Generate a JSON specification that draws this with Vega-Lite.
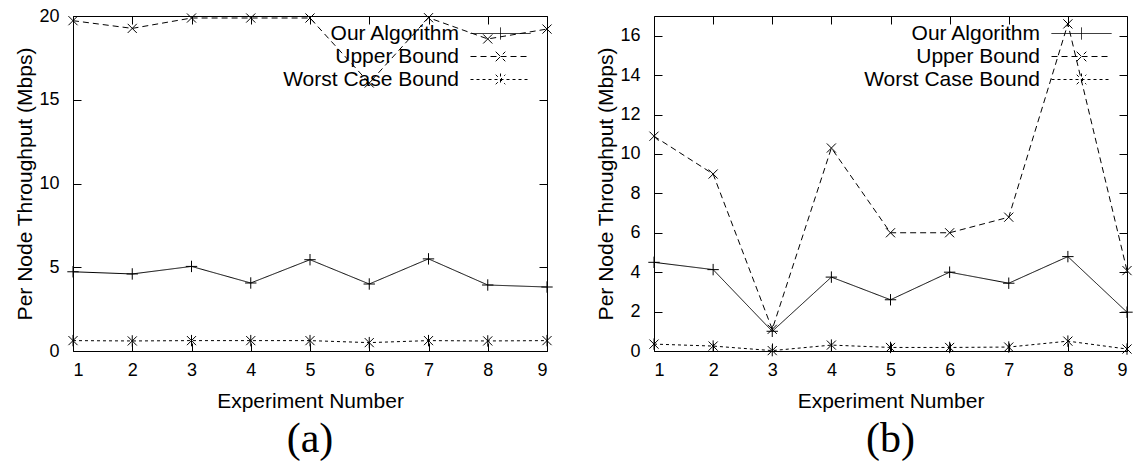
{
  "$schema": "https://vega.github.io/schema/vega-lite/v6.json",
  "background": "white",
  "padding": {"left": 14, "top": 6, "right": 3, "bottom": 0},
  "config": {
    "view": {"stroke": "black", "strokeWidth": 1},
    "font": "Liberation Sans",
    "axis": {
      "grid": false, "domain": false, "ticks": true, "tickSize": -8, "tickColor": "black", "tickWidth": 1,
      "labelFont": "Liberation Sans", "labelFontSize": 18, "labelColor": "black",
      "titleFont": "Liberation Sans", "titleFontSize": 21, "titleFontWeight": "normal", "titleColor": "black"
    },
    "axisX": {"labelPadding": 18},
    "axisY": {"labelPadding": 22},
    "legend": {
      "orient": "none", "legendX": 417, "legendY": 7, "title": null, "padding": 0,
      "symbolSize": 144, "symbolStrokeWidth": 1, "symbolStrokeColor": "black", "symbolFillColor": "transparent",
      "labelAlign": "right", "labelOffset": -52, "labelFont": "Liberation Sans", "labelFontSize": 21, "labelColor": "black", "labelLimit": 400,
      "rowPadding": 1
    },
    "title": {"font": "Liberation Serif", "fontSize": 42, "fontWeight": "normal", "color": "black"}
  },
  "datasets": {
    "a": [
      {"exp": 1, "series": "Our Algorithm", "value": 4.73},
      {"exp": 2, "series": "Our Algorithm", "value": 4.6},
      {"exp": 3, "series": "Our Algorithm", "value": 5.05},
      {"exp": 4, "series": "Our Algorithm", "value": 4.06},
      {"exp": 5, "series": "Our Algorithm", "value": 5.45},
      {"exp": 6, "series": "Our Algorithm", "value": 4.0},
      {"exp": 7, "series": "Our Algorithm", "value": 5.5},
      {"exp": 8, "series": "Our Algorithm", "value": 3.94},
      {"exp": 9, "series": "Our Algorithm", "value": 3.82},
      {"exp": 1, "series": "Upper Bound", "value": 19.72},
      {"exp": 2, "series": "Upper Bound", "value": 19.26},
      {"exp": 3, "series": "Upper Bound", "value": 19.88},
      {"exp": 4, "series": "Upper Bound", "value": 19.88},
      {"exp": 5, "series": "Upper Bound", "value": 19.88},
      {"exp": 6, "series": "Upper Bound", "value": 16.0},
      {"exp": 7, "series": "Upper Bound", "value": 19.9},
      {"exp": 8, "series": "Upper Bound", "value": 18.63},
      {"exp": 9, "series": "Upper Bound", "value": 19.22},
      {"exp": 1, "series": "Worst Case Bound", "value": 0.62},
      {"exp": 2, "series": "Worst Case Bound", "value": 0.6},
      {"exp": 3, "series": "Worst Case Bound", "value": 0.62},
      {"exp": 4, "series": "Worst Case Bound", "value": 0.62},
      {"exp": 5, "series": "Worst Case Bound", "value": 0.62},
      {"exp": 6, "series": "Worst Case Bound", "value": 0.5},
      {"exp": 7, "series": "Worst Case Bound", "value": 0.62},
      {"exp": 8, "series": "Worst Case Bound", "value": 0.6},
      {"exp": 9, "series": "Worst Case Bound", "value": 0.62}
    ],
    "b": [
      {"exp": 1, "series": "Our Algorithm", "value": 4.5},
      {"exp": 2, "series": "Our Algorithm", "value": 4.13},
      {"exp": 3, "series": "Our Algorithm", "value": 1.0},
      {"exp": 4, "series": "Our Algorithm", "value": 3.75},
      {"exp": 5, "series": "Our Algorithm", "value": 2.6},
      {"exp": 6, "series": "Our Algorithm", "value": 4.0},
      {"exp": 7, "series": "Our Algorithm", "value": 3.44},
      {"exp": 8, "series": "Our Algorithm", "value": 4.79},
      {"exp": 9, "series": "Our Algorithm", "value": 1.97},
      {"exp": 1, "series": "Upper Bound", "value": 10.9},
      {"exp": 2, "series": "Upper Bound", "value": 8.98},
      {"exp": 3, "series": "Upper Bound", "value": 1.1},
      {"exp": 4, "series": "Upper Bound", "value": 10.3},
      {"exp": 5, "series": "Upper Bound", "value": 6.0},
      {"exp": 6, "series": "Upper Bound", "value": 6.0},
      {"exp": 7, "series": "Upper Bound", "value": 6.79},
      {"exp": 8, "series": "Upper Bound", "value": 16.6},
      {"exp": 9, "series": "Upper Bound", "value": 4.08},
      {"exp": 1, "series": "Worst Case Bound", "value": 0.35},
      {"exp": 2, "series": "Worst Case Bound", "value": 0.25},
      {"exp": 3, "series": "Worst Case Bound", "value": 0.02},
      {"exp": 4, "series": "Worst Case Bound", "value": 0.3},
      {"exp": 5, "series": "Worst Case Bound", "value": 0.18},
      {"exp": 6, "series": "Worst Case Bound", "value": 0.18},
      {"exp": 7, "series": "Worst Case Bound", "value": 0.2},
      {"exp": 8, "series": "Worst Case Bound", "value": 0.5},
      {"exp": 9, "series": "Worst Case Bound", "value": 0.1}
    ]
  },
  "spacing": 39,
  "resolve": {
    "scale": {"x": "independent", "y": "independent", "strokeDash": "independent"},
    "legend": {"strokeDash": "independent"}
  },
  "hconcat": [
    {
      "width": 474, "height": 335,
      "title": {"text": "(a)", "orient": "bottom", "offset": 8},
      "data": {"name": "a"},
      "layer": [
        {
          "mark": {"type": "line", "strokeWidth": 1, "color": "black"},
          "encoding": {
            "x": {"field": "exp", "type": "quantitative", "scale": {"domain": [1, 9], "nice": false},
                  "axis": {"orient": "bottom", "values": [1,2,3,4,5,6,7,8,9], "title": "Experiment Number", "titlePadding": 11}},
            "y": {"field": "value", "type": "quantitative", "scale": {"domain": [0, 20], "nice": false},
                  "axis": {"orient": "left", "values": [0,5,10,15,20], "title": "Per Node Throughput (Mbps)", "titlePadding": 3}},
            "strokeDash": {"field": "series", "type": "nominal",
              "scale": {"domain": ["Our Algorithm", "Upper Bound", "Worst Case Bound"], "range": [[1, 0], [6, 4], [3, 3]]},
              "legend": {
                "encode": {"symbols": {"update": {"shape": {"signal": "datum.value === 'Our Algorithm' ? 'M-5,0H5M0,-1V1' : datum.value === 'Upper Bound' ? 'M-5,0H5M-0.8,-0.8L0.8,0.8M-0.8,0.8L0.8,-0.8' : 'M-5,0H5M-0.8,-0.8L0.8,0.8M-0.8,0.8L0.8,-0.8M0,-1V1'"}}}}
              }}
          }
        },
        {
          "transform": [{"filter": "datum.series === 'Our Algorithm'"}],
          "mark": {"type": "point", "filled": false, "strokeWidth": 1, "color": "black", "opacity": 1, "size": 130, "shape": "M-1,0H1M0,-1V1"},
          "encoding": {
            "x": {"field": "exp", "type": "quantitative", "axis": {"orient": "top", "values": [1,2,3,4,5,6,7,8,9], "labels": false, "title": null}},
            "y": {"field": "value", "type": "quantitative", "axis": {"orient": "right", "values": [0,5,10,15,20], "labels": false, "title": null}}
          }
        },
        {
          "transform": [{"filter": "datum.series === 'Upper Bound'"}],
          "mark": {"type": "point", "filled": false, "strokeWidth": 1, "color": "black", "opacity": 1, "size": 130, "shape": "M-0.8,-0.8L0.8,0.8M-0.8,0.8L0.8,-0.8"},
          "encoding": {
            "x": {"field": "exp", "type": "quantitative", "axis": null},
            "y": {"field": "value", "type": "quantitative", "axis": null}
          }
        },
        {
          "transform": [{"filter": "datum.series === 'Worst Case Bound'"}],
          "mark": {"type": "point", "filled": false, "strokeWidth": 1, "color": "black", "opacity": 1, "size": 130, "shape": "M-0.8,-0.8L0.8,0.8M-0.8,0.8L0.8,-0.8M0,-1V1"},
          "encoding": {
            "x": {"field": "exp", "type": "quantitative", "axis": null},
            "y": {"field": "value", "type": "quantitative", "axis": null}
          }
        }
      ],
      "resolve": {"axis": {"x": "independent", "y": "independent"}}
    },
    {
      "width": 473, "height": 335,
      "title": {"text": "(b)", "orient": "bottom", "offset": 8},
      "data": {"name": "b"},
      "layer": [
        {
          "mark": {"type": "line", "strokeWidth": 1, "color": "black"},
          "encoding": {
            "x": {"field": "exp", "type": "quantitative", "scale": {"domain": [1, 9], "nice": false},
                  "axis": {"orient": "bottom", "values": [1,2,3,4,5,6,7,8,9], "title": "Experiment Number", "titlePadding": 11}},
            "y": {"field": "value", "type": "quantitative", "scale": {"domain": [0, 17], "nice": false},
                  "axis": {"orient": "left", "values": [0,2,4,6,8,10,12,14,16], "title": "Per Node Throughput (Mbps)", "titlePadding": 3}},
            "strokeDash": {"field": "series", "type": "nominal",
              "scale": {"domain": ["Our Algorithm", "Upper Bound", "Worst Case Bound"], "range": [[1, 0], [6, 4], [3, 3]]},
              "legend": {
                "encode": {"symbols": {"update": {"shape": {"signal": "datum.value === 'Our Algorithm' ? 'M-5,0H5M0,-1V1' : datum.value === 'Upper Bound' ? 'M-5,0H5M-0.8,-0.8L0.8,0.8M-0.8,0.8L0.8,-0.8' : 'M-5,0H5M-0.8,-0.8L0.8,0.8M-0.8,0.8L0.8,-0.8M0,-1V1'"}}}}
              }}
          }
        },
        {
          "transform": [{"filter": "datum.series === 'Our Algorithm'"}],
          "mark": {"type": "point", "filled": false, "strokeWidth": 1, "color": "black", "opacity": 1, "size": 130, "shape": "M-1,0H1M0,-1V1"},
          "encoding": {
            "x": {"field": "exp", "type": "quantitative", "axis": {"orient": "top", "values": [1,2,3,4,5,6,7,8,9], "labels": false, "title": null}},
            "y": {"field": "value", "type": "quantitative", "axis": {"orient": "right", "values": [0,2,4,6,8,10,12,14,16], "labels": false, "title": null}}
          }
        },
        {
          "transform": [{"filter": "datum.series === 'Upper Bound'"}],
          "mark": {"type": "point", "filled": false, "strokeWidth": 1, "color": "black", "opacity": 1, "size": 130, "shape": "M-0.8,-0.8L0.8,0.8M-0.8,0.8L0.8,-0.8"},
          "encoding": {
            "x": {"field": "exp", "type": "quantitative", "axis": null},
            "y": {"field": "value", "type": "quantitative", "axis": null}
          }
        },
        {
          "transform": [{"filter": "datum.series === 'Worst Case Bound'"}],
          "mark": {"type": "point", "filled": false, "strokeWidth": 1, "color": "black", "opacity": 1, "size": 130, "shape": "M-0.8,-0.8L0.8,0.8M-0.8,0.8L0.8,-0.8M0,-1V1"},
          "encoding": {
            "x": {"field": "exp", "type": "quantitative", "axis": null},
            "y": {"field": "value", "type": "quantitative", "axis": null}
          }
        }
      ],
      "resolve": {"axis": {"x": "independent", "y": "independent"}}
    }
  ]
}
